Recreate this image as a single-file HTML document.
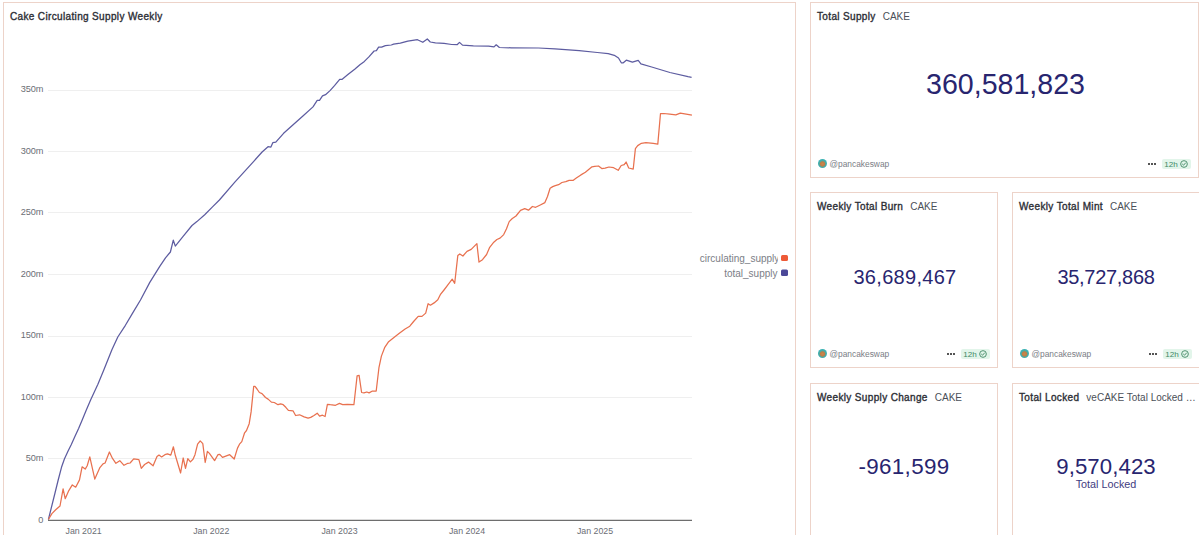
<!DOCTYPE html>
<html lang="en">
<head>
<meta charset="utf-8">
<title>CAKE Supply Dashboard</title>
<style>
html,body{margin:0;padding:0;background:#fff;}
body{width:1199px;height:535px;overflow:hidden;position:relative;font-family:"Liberation Sans",Arial,sans-serif;}
.card{position:absolute;box-sizing:border-box;border:1px solid #edd3c9;background:#fff;overflow:hidden;}
.title{position:absolute;left:6px;top:8px;white-space:nowrap;font-size:10px;line-height:12px;color:#3a3c43;}
.title b{font-weight:400;color:#2c2e35;-webkit-text-stroke:0.35px #2c2e35;letter-spacing:0.35px;}
.title span{color:#4b4f58;margin-left:7px;}
.num{position:absolute;left:0;right:0;text-align:center;color:#28256f;white-space:nowrap;line-height:1;}
.foot{position:absolute;left:7px;right:7px;bottom:8px;height:11px;}
.ava{position:absolute;left:0.4px;top:0.9px;width:9px;height:9px;border-radius:50%;background:radial-gradient(circle at 50% 55%,#c98a4e 0,#c07c45 2.2px,#4aa9a3 3.2px,#3bb2b3 4.5px);}
.user{position:absolute;left:11.5px;top:0.5px;font-size:8.4px;line-height:11px;color:#7a7d85;}
.dots{position:absolute;right:35px;top:5px;width:8px;height:2px;background:linear-gradient(90deg,#555 0 2px,transparent 2px 3px,#555 3px 5px,transparent 5px 6px,#555 6px 8px);}
.badge{position:absolute;right:0;top:0.8px;width:29px;height:10.6px;border-radius:2px;background:#e2f5ea;}
.badge i{position:absolute;left:2.3px;top:0px;font-style:normal;font-size:8.1px;line-height:11px;color:#3f8a66;}
.badge svg{position:absolute;right:2.8px;top:1.5px;}
</style>
</head>
<body>

<!-- Chart panel -->
<div class="card" style="left:3px;top:2px;width:793px;height:560px;">
  <div class="title" style="left:6px;"><b>Cake Circulating Supply Weekly</b></div>
</div>
<svg style="position:absolute;left:0;top:0" width="1199" height="535" viewBox="0 0 1199 535" font-family="Liberation Sans, Arial, sans-serif">
  <g stroke="#efefef" stroke-width="1">
    <line x1="48" y1="90.5" x2="692" y2="90.5"/>
    <line x1="48" y1="151.5" x2="692" y2="151.5"/>
    <line x1="48" y1="212.5" x2="692" y2="212.5"/>
    <line x1="48" y1="274.5" x2="692" y2="274.5"/>
    <line x1="48" y1="336.5" x2="692" y2="336.5"/>
    <line x1="48" y1="397.5" x2="692" y2="397.5"/>
    <line x1="48" y1="458.5" x2="692" y2="458.5"/>
  </g>
  <g font-size="9.2" letter-spacing="-0.15" fill="#6b6e75" text-anchor="end">
    <text x="43.2" y="92.3">350m</text>
    <text x="43.2" y="153.6">300m</text>
    <text x="43.2" y="215.1">250m</text>
    <text x="43.2" y="276.6">200m</text>
    <text x="43.2" y="338.1">150m</text>
    <text x="43.2" y="399.6">100m</text>
    <text x="43.2" y="461.1">50m</text>
    <text x="43.2" y="523.3">0</text>
  </g>
  <g font-size="8.8" fill="#6b6e75" text-anchor="middle">
    <text x="83.6" y="533.8">Jan 2021</text>
    <text x="211.3" y="533.8">Jan 2022</text>
    <text x="339.5" y="533.8">Jan 2023</text>
    <text x="467" y="533.8">Jan 2024</text>
    <text x="595" y="533.8">Jan 2025</text>
  </g>
  <polyline fill="none" stroke="#5d5ca0" stroke-width="1.25" stroke-linejoin="round" points="48.4,519.5 55,493 58.2,480 61.5,467.3 64.4,459 68.2,450.8 71.2,444.8 74.9,436.6 78.6,428.4 82.4,419.4 86.1,410.5 90.6,400 97.9,384.3 103.8,370 111.9,349.7 117.8,337 125.4,325.3 132.9,312.6 140.5,300 149.8,282.4 159.6,266.7 165.5,257.8 170.4,252 173.3,240.2 175.3,246.1 183.1,236.3 192,225.5 196.9,221.6 204.7,214.7 212.5,206.9 219.4,200 234.6,182.4 254.2,160.8 262.1,152 268,146.7 270.9,147.1 272.8,142.7 275.8,142.2 283.6,133.3 293.4,124.5 303.2,115.7 313,106.9 317.2,100.4 319.5,100.4 322.5,95.9 325.5,94.7 330,90.6 334.5,85.7 339.7,79.4 341.9,79.4 347.9,74.6 354.7,69.2 359.9,64.7 364.4,61.4 368.9,56.9 374.1,51 376.4,50.7 378.6,47.2 381.6,47.2 385.4,45.7 391.3,45 393.6,44.2 400.3,43.2 407.8,41.2 417.5,39.7 422.8,42.3 427.3,39 430.3,42 435.4,42.9 444.1,43.4 451.7,44.5 457.1,44.7 459.5,42.4 462.5,45.1 473.4,45.8 488.6,46.1 494,46.9 496.2,44.8 499.4,47.5 511.3,47.8 538.5,48 555,48.9 579.2,50.7 597.3,52.5 608.2,53.7 614.3,55.3 618.5,58 621.3,62.8 623.3,62.8 626.3,60.2 632.4,62.2 638.2,60.4 640.9,63.8 651.7,67 669.9,72.5 688,76.7 691.6,77.3"/>
  <polyline fill="none" stroke="#e8714f" stroke-width="1.25" stroke-linejoin="round" points="48.4,519.5 51.9,513.6 55.7,509.8 60,506 63.1,488.8 65.2,498.7 68.8,490.6 72.3,484.9 75.7,487.2 79.5,479.9 82.1,466.8 85.2,469.1 87.2,465.8 89.8,456.9 94.8,479.1 99.9,467.6 103,463.8 105.1,463 109.4,452 112.5,458.4 115.9,463.3 119.8,460.7 124,465.3 127.8,463.3 130.1,463 133.7,458.9 138.9,459.6 141.3,468.4 144.6,464.5 148.5,462.1 153.1,465.8 157,456.6 159,455.1 161.6,456.9 164.9,454.7 167.5,453.8 170.8,455.1 173.4,446.8 175.3,455.3 180.6,473 183.2,458 185.5,468.4 187.8,458.6 190.4,461.9 193,459.3 195,454.7 197.6,444.2 200.2,440.9 202.8,443.6 205.2,462.5 207.4,451.4 209.4,453.4 214.6,460.6 217.9,454.7 219.8,454.3 222.5,457.3 229.7,454.7 234.2,459 237.5,448.1 239.5,444.2 241.8,441.6 244.6,432.8 246.5,430.5 249.2,423.7 251.1,411.9 253.7,386.4 255,386.4 257,389 259.4,392.5 262,393.6 265.5,397.5 268.1,399.1 271.4,402.1 274.3,402.5 278,404.7 280.6,403.8 283.2,404.7 285.8,407.3 288.4,410.3 293,410.8 295.6,415.5 299.6,414.8 304.1,416.9 308.1,418.2 310.7,417.4 314,415.5 317.2,413.2 319.6,416.1 322.5,415.2 325.1,416.5 327.4,404.3 330.3,404.7 335.5,405.3 339.5,403.4 342.7,404.7 347.3,404.3 353.9,404.7 357.1,375.9 359.1,375.3 361.6,392.5 364,392.9 366.8,392 369.1,392.9 372.4,391 376.2,391 379,367.3 381.4,356.1 384.6,347.7 388.3,342.1 393,338.3 399,333.6 405.1,329 409.8,326.2 413.6,321.5 418.2,316.4 422,316.4 425.7,313.1 428.1,303.7 430.4,305.2 434.1,302.9 437.8,299.8 440.3,294.7 444.4,289.5 447.5,285.4 452.2,279.2 454.7,283.3 457.8,255.6 459.8,253.9 462.9,256 467,251.4 471.2,249.4 476.9,243.6 479,262.1 482.5,259.7 486.6,254.5 489.7,247.3 493.8,242.2 496.9,239.5 500,238.1 503.7,234.6 506.5,228.8 509.2,221.6 512.3,218.5 516,216 520.5,210.3 524.7,208.6 528.5,210.2 532.4,206.5 535.7,207.3 540.3,205 544.9,202.6 547.5,196.5 550.1,188.2 552.7,186.6 555.3,185.6 558.6,184.7 561.9,182.5 565.8,181.7 569.1,180.4 573,180.4 576.3,178.1 580.9,174.9 585.4,172.3 592,166.8 594.6,166.4 598.5,166 601.8,168.6 605.1,168.1 609,167 613.6,167.7 618.2,170.3 621.2,165.5 624.2,164.6 626.1,162 628.7,168 633.2,169.2 635.4,148.6 637.7,145.6 641.4,143.3 645.9,142.6 653.3,143.3 657.8,144.1 660.5,113.5 663.8,113.5 669.8,114.2 675.8,114.9 680.3,113.2 686.2,114.2 691.9,115.2"/>
  <line x1="48" y1="520.4" x2="692" y2="520.4" stroke="#6e6e6e" stroke-width="1.25"/>
  <!-- legend -->
  <svg x="699" y="250" width="79" height="14" overflow="hidden">
    <text x="0.8" y="11.6" font-size="10" fill="#7b7e86">circulating_supply</text>
  </svg>
  <text x="777.5" y="276.7" font-size="10" fill="#7b7e86" text-anchor="end">total_supply</text>
  <rect x="781" y="255" width="7" height="6" rx="1.5" fill="#ee5a37"/>
  <rect x="781" y="269.5" width="7" height="6.5" rx="1.5" fill="#4b4898"/>
</svg>

<!-- Total Supply -->
<div class="card" style="left:810px;top:2px;width:389px;height:176px;">
  <div class="title"><b>Total Supply</b><span>CAKE</span></div>
  <div class="num" style="top:67px;font-size:28.6px;padding-left:2px;">360,581,823</div>
  <div class="foot">
    <div class="ava"></div><div class="user">@pancakeswap</div>
    <div class="dots"></div>
    <div class="badge"><i>12h</i><svg width="8" height="8" viewBox="0 0 8 8"><circle cx="4" cy="4" r="3.35" fill="none" stroke="#4a8d6c" stroke-width="0.95"/><path d="M2.5 4.2 L3.6 5.2 L5.5 3" fill="none" stroke="#4a8d6c" stroke-width="0.95" stroke-linecap="round" stroke-linejoin="round"/></svg></div>
  </div>
</div>

<!-- Weekly Total Burn -->
<div class="card" style="left:810px;top:192px;width:188px;height:176px;">
  <div class="title"><b>Weekly Total Burn</b><span>CAKE</span></div>
  <div class="num" style="top:74px;font-size:20px;letter-spacing:0.3px;padding-left:2px;">36,689,467</div>
  <div class="foot">
    <div class="ava"></div><div class="user">@pancakeswap</div>
    <div class="dots"></div>
    <div class="badge"><i>12h</i><svg width="8" height="8" viewBox="0 0 8 8"><circle cx="4" cy="4" r="3.35" fill="none" stroke="#4a8d6c" stroke-width="0.95"/><path d="M2.5 4.2 L3.6 5.2 L5.5 3" fill="none" stroke="#4a8d6c" stroke-width="0.95" stroke-linecap="round" stroke-linejoin="round"/></svg></div>
  </div>
</div>

<!-- Weekly Total Mint -->
<div class="card" style="left:1012px;top:192px;width:188px;height:176px;">
  <div class="title"><b>Weekly Total Mint</b><span>CAKE</span></div>
  <div class="num" style="top:74px;font-size:20px;letter-spacing:-0.3px;">35,727,868</div>
  <div class="foot">
    <div class="ava"></div><div class="user">@pancakeswap</div>
    <div class="dots"></div>
    <div class="badge"><i>12h</i><svg width="8" height="8" viewBox="0 0 8 8"><circle cx="4" cy="4" r="3.35" fill="none" stroke="#4a8d6c" stroke-width="0.95"/><path d="M2.5 4.2 L3.6 5.2 L5.5 3" fill="none" stroke="#4a8d6c" stroke-width="0.95" stroke-linecap="round" stroke-linejoin="round"/></svg></div>
  </div>
</div>

<!-- Weekly Supply Change -->
<div class="card" style="left:810px;top:383px;width:188px;height:176px;">
  <div class="title"><b>Weekly Supply Change</b><span>CAKE</span></div>
  <div class="num" style="top:71.5px;font-size:22.4px;letter-spacing:0.3px;">-961,599</div>
</div>

<!-- Total Locked -->
<div class="card" style="left:1012px;top:383px;width:188px;height:176px;">
  <div class="title"><b>Total Locked</b><span>veCAKE Total Locked …</span></div>
  <div class="num" style="top:71.5px;font-size:22.2px;letter-spacing:0.1px;">9,570,423</div>
  <div class="num" style="top:95px;font-size:10.8px;color:#3f3c80;">Total Locked</div>
</div>

</body>
</html>
